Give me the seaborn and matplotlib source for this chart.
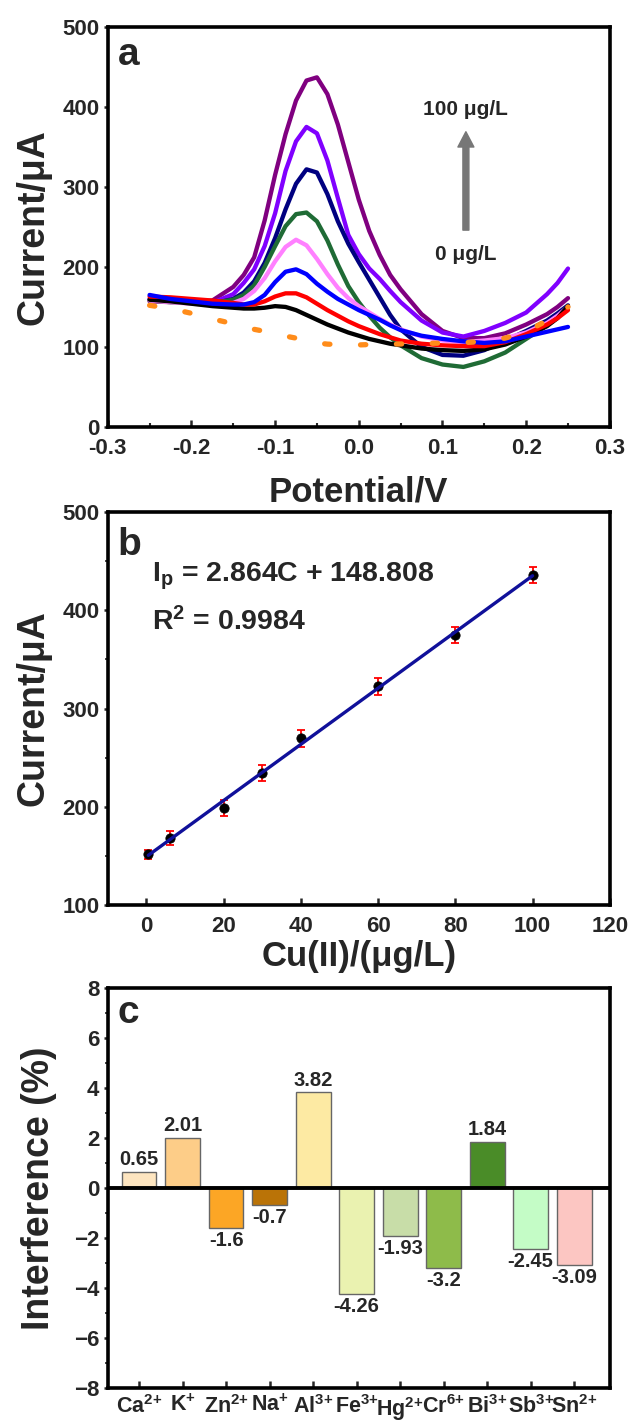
import numpy as np
import pandas as pd
import matplotlib
matplotlib.use('Agg')
import matplotlib.pyplot as plt
from matplotlib.ticker import MultipleLocator
import seaborn as sns

# ---- panel a: DPV curves ----
potential = [-0.25, -0.225, -0.2, -0.175, -0.15, -0.1375, -0.125, -0.1125, -0.1, -0.0875,
             -0.075, -0.0625, -0.05, -0.0375, -0.025, -0.0125, 0.0, 0.0125, 0.025, 0.0375,
             0.05, 0.075, 0.1, 0.125, 0.15, 0.175, 0.2, 0.225, 0.2375, 0.25]

cur_0 = [159, 157, 154, 151, 149, 148, 148, 149, 151, 150, 146, 140, 134, 128, 123, 118, 114, 110,
         107, 104, 102, 98, 96, 95, 97, 103, 113, 126, 136, 151]
cur_5 = [163, 162, 160, 158, 155, 153, 153, 157, 163, 167, 167, 162, 154, 146, 139, 132, 126, 121,
         116, 112, 108, 104, 102, 101, 101, 106, 116, 128, 136, 146]
cur_20 = [165, 160, 157, 154, 153, 153, 156, 165, 181, 194, 197, 191, 179, 169, 160, 153, 146, 140,
          134, 127, 121, 114, 110, 107, 105, 107, 113, 119, 122, 125]
cur_30 = [158, 156, 154, 153, 155, 160, 170, 186, 207, 225, 234, 227, 210, 191, 174, 161, 151, 143,
          135, 128, 122, 113, 108, 106, 108, 111, 118, 130, 139, 150]
cur_40 = [158, 156, 155, 155, 159, 165, 177, 200, 226, 251, 266, 268, 257, 233, 203, 176, 156, 139,
          124, 112, 102, 86, 78, 75, 82, 93, 110, 127, 138, 150]
cur_60 = [159, 157, 155, 154, 160, 168, 182, 205, 236, 272, 304, 322, 318, 291, 257, 229, 206, 184,
          162, 140, 122, 100, 90, 89, 96, 108, 120, 133, 142, 152]
cur_80 = [160, 157, 155, 155, 166, 180, 197, 226, 267, 320, 357, 375, 367, 333, 286, 240, 216, 198,
          185, 170, 156, 133, 118, 113, 120, 130, 143, 166, 180, 198]
cur_100 = [157, 156, 156, 158, 175, 190, 212, 258, 315, 366, 408, 433, 437, 416, 378, 331, 284, 245,
           215, 190, 172, 141, 120, 111, 111, 117, 128, 141, 150, 161]
blank = [152, 148, 142, 135, 129, 126, 122, 119.5, 116, 113.5, 111, 108, 105, 103.5, 103, 102.5,
         102.5, 103, 103, 103.5, 103.7, 104.3, 104.8, 105.3, 107, 111, 119, 133, 141, 150]

conc_labels = ['100', '80', '60', '40', '30', '0', '5', '20']
curve_colors = {'0': '#000000', '5': '#FF0000', '20': '#0000FF', '30': '#FF80FF',
                '40': '#1F6B35', '60': '#000080', '80': '#8000FF', '100': '#800080'}

# ---- panel b: calibration ----
cu_conc = [0.5, 6, 20, 30, 40, 60, 80, 100]
peak_current = [151.5, 168.5, 198.5, 234.5, 269.5, 322.5, 374.5, 436]
peak_err = [5, 7, 8, 8.5, 8.5, 8.5, 8, 8.5]

# ---- panel c: interference ----
ions = [r'Ca$^{\mathbf{2}\mathbf{+}}$', r'K$^{\mathbf{+}}$', r'Zn$^{\mathbf{2}\mathbf{+}}$',
        r'Na$^{\mathbf{+}}$', r'Al$^{\mathbf{3}\mathbf{+}}$', r'Fe$^{\mathbf{3}\mathbf{+}}$',
        r'Hg$^{\mathbf{2}\mathbf{+}}$', r'Cr$^{\mathbf{6}\mathbf{+}}$', r'Bi$^{\mathbf{3}\mathbf{+}}$',
        r'Sb$^{\mathbf{3}\mathbf{+}}$', r'Sn$^{\mathbf{2}\mathbf{+}}$']
interference = [0.65, 2.01, -1.6, -0.7, 3.82, -4.26, -1.93, -3.2, 1.84, -2.45, -3.09]
bar_colors = ['#FDE5C0', '#FDCD88', '#FCA625', '#BA7307', '#FDEAA3', '#EAF2B0',
              '#C8DDA8', '#8EBB4A', '#4A8C28', '#C4FCC6', '#FCC6C2']

sns.set_theme(style='ticks')
plt.rcParams['font.family'] = ['Liberation Sans', 'DejaVu Sans']
plt.rcParams['font.weight'] = 'bold'
plt.rcParams['axes.labelweight'] = 'bold'
plt.rcParams['mathtext.fontset'] = 'custom'
plt.rcParams['mathtext.rm'] = 'Liberation Sans:bold'
plt.rcParams['mathtext.bf'] = 'Liberation Sans:bold'
plt.rcParams['mathtext.it'] = 'Liberation Sans:bold'


def style_axes(ax, size=16):
    for s in ax.spines.values():
        s.set_linewidth(2.6)
        s.set_color('black')
    ax.tick_params(axis='x', which='major', direction='in', length=5, width=1.8,
                   labelsize=size, pad=8, top=False)
    ax.tick_params(axis='x', which='minor', direction='in', length=3, width=1.5, top=False)
    ax.tick_params(axis='y', which='major', direction='out', length=3, width=1.8,
                   labelsize=size, pad=3, right=False)
    ax.tick_params(axis='y', which='minor', direction='out', length=2, width=1.2, right=False)
    for lab in ax.get_xticklabels() + ax.get_yticklabels():
        lab.set_fontweight('bold')


fig = plt.figure(figsize=(6.3, 14.25), dpi=100)
ax_a = fig.add_axes([0.171, 0.7004, 0.797, 0.2807])
ax_b = fig.add_axes([0.171, 0.3649, 0.797, 0.2758])
ax_c = fig.add_axes([0.171, 0.026, 0.797, 0.2807])

# ---------- a ----------
df_a = pd.DataFrame({
    'Potential': potential * 8,
    'Current': cur_0 + cur_5 + cur_20 + cur_30 + cur_40 + cur_60 + cur_80 + cur_100,
    'conc': sum([[c] * len(potential) for c in ['0', '5', '20', '30', '40', '60', '80', '100']], []),
})
sns.lineplot(data=df_a, x='Potential', y='Current', hue='conc', hue_order=conc_labels,
             palette=curve_colors, estimator=None, sort=False, lw=3.1, legend=False, ax=ax_a)
for ln in ax_a.lines:
    ln.set_solid_joinstyle('round')
# blank (dotted orange)
sns.lineplot(x=potential, y=blank, color='#FF8C1A', lw=3.8, sort=False,
             linestyle=(0, (1.0, 5.8)), dash_capstyle='round', ax=ax_a)
ax_a.annotate('', xy=(0.128, 369), xytext=(0.128, 246),
              arrowprops=dict(facecolor='#777777', edgecolor='#777777', width=4.3,
                              headwidth=11.5, headlength=11, shrink=0))
ax_a.text(0.128, 390, '100 μg/L', ha='center', va='baseline', fontsize=15, fontweight='bold')
ax_a.text(0.128, 209, '0 μg/L', ha='center', va='baseline', fontsize=15, fontweight='bold')
ax_a.text(0.02, 0.905, 'a', transform=ax_a.transAxes, fontsize=28, fontweight='bold', va='baseline')
ax_a.set_xlim(-0.3, 0.3)
ax_a.set_ylim(0, 500)
ax_a.xaxis.set_major_locator(MultipleLocator(0.1))
ax_a.xaxis.set_minor_locator(MultipleLocator(0.05))
ax_a.yaxis.set_major_locator(MultipleLocator(100))
ax_a.xaxis.set_major_formatter(matplotlib.ticker.FormatStrFormatter('%.1f'))
ax_a.set_xlabel('Potential/V', fontsize=25, fontweight='bold', labelpad=12)
ax_a.set_ylabel('Current/μA', fontsize=27, fontweight='bold', labelpad=8)
style_axes(ax_a)

# ---------- b ----------
ax_b.errorbar(cu_conc, peak_current, yerr=peak_err, fmt='none', ecolor='red',
              elinewidth=1.3, capsize=3, capthick=1.3, zorder=2)
sns.scatterplot(x=cu_conc, y=peak_current, color='black', s=45, edgecolor='black',
                zorder=3, ax=ax_b)
sns.regplot(x=cu_conc, y=peak_current, scatter=False, ci=None, truncate=True,
            color='#10109A', line_kws={'lw': 2.4, 'zorder': 4}, ax=ax_b)
ax_b.text(0.088, 0.823, r'I$_\mathbf{p}$ = 2.864C + 148.808', transform=ax_b.transAxes,
          fontsize=20.5, fontweight='bold', va='baseline')
ax_b.text(0.088, 0.698, r'R$^\mathbf{2}$ = 0.9984', transform=ax_b.transAxes,
          fontsize=20.5, fontweight='bold', va='baseline')
ax_b.text(0.02, 0.891, 'b', transform=ax_b.transAxes, fontsize=28, fontweight='bold', va='baseline')
ax_b.set_xlim(-10, 120)
ax_b.set_ylim(100, 500)
ax_b.xaxis.set_major_locator(MultipleLocator(20))
ax_b.yaxis.set_major_locator(MultipleLocator(100))
ax_b.yaxis.set_minor_locator(MultipleLocator(50))
ax_b.set_xlabel('Cu(II)/(μg/L)', fontsize=25, fontweight='bold', labelpad=2)
ax_b.set_ylabel('Current/μA', fontsize=27, fontweight='bold', labelpad=8)
style_axes(ax_b)

# ---------- c ----------
sns.barplot(x=ions, y=interference, hue=ions, palette=bar_colors, legend=False, saturation=1,
            edgecolor='#666666', linewidth=1, width=0.8, ax=ax_c)
for cont in ax_c.containers:
    ax_c.bar_label(cont, fmt='%g', padding=2, fontsize=14.5, fontweight='bold')
ax_c.axhline(0, color='black', lw=2.8)
ax_c.text(0.02, 0.9125, 'c', transform=ax_c.transAxes, fontsize=28, fontweight='bold', va='baseline')
ax_c.set_xlim(-0.72, 10.82)
ax_c.set_ylim(-8, 8)
ax_c.yaxis.set_major_locator(MultipleLocator(2))
ax_c.yaxis.set_minor_locator(MultipleLocator(1))
ax_c.set_xlabel('')
ax_c.set_ylabel('Interference (%)', fontsize=27, fontweight='bold', labelpad=12)
style_axes(ax_c)
ax_c.tick_params(axis='x', which='major', pad=5, labelsize=15.5)

fig.savefig('out.png', dpi=100)
